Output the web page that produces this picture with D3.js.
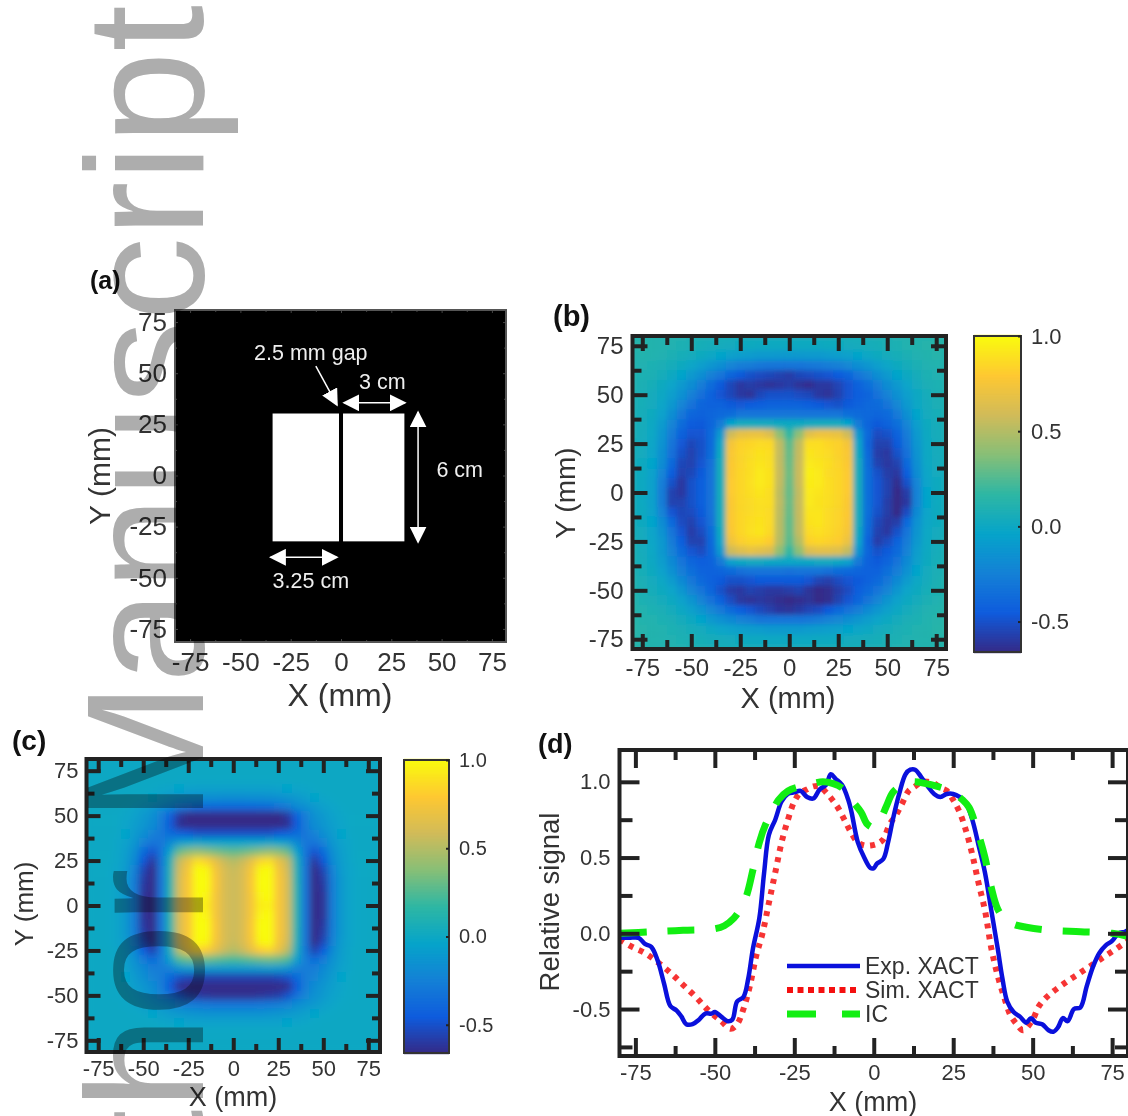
<!DOCTYPE html>
<html><head><meta charset="utf-8">
<style>html,body{margin:0;padding:0;background:#fff}svg{display:block}text{font-family:"Liberation Sans",Arial,sans-serif}</style>
<script src="https://cdn.jsdelivr.net/npm/d3@7"></script></head><body>
<div id="chart"></div>
<script>
const majorTicks=[-75,-50,-25,0,25,50,75];
const minorTicks=[-62.5,-37.5,-12.5,12.5,37.5,62.5];
const colorbarTicks=[1,0.5,0,-0.5];
const signalMajor=[1,0.5,0,-0.5];
const signalMinor=[0.75,0.25,-0.25,-0.75];
const gridAxis=[-80,-75,-70,-65,-60,-55,-50,-45,-40,-35,-30,-25,-20,-15,-10,-5,0,5,10,15,20,25,30,35,40,45,50,55,60,65,70,75,80];
const paruStops=["#352a87","#0f5cdd","#1481d6","#06a4ca","#2eb7a4","#87bf77","#d1bb59","#fec832","#f9fb0e"];
const apertures=[{x0:-34,x1:-1,y0:-32.2,y1:30.3},{x0:1,x1:31.5,y0:-32.2,y1:30.3}];
const arrows=[{x0:-12.5,y0:53.5,x1:-2,y1:34.5,both:false},{x0:1.5,y0:35.5,x1:31.8,y1:35.5,both:true},{x0:38.3,y0:31,x1:38.3,y1:-32.5,both:true},{x0:-35,y0:-40,x1:-2,y1:-40,both:true}];
const notes=[{t:"2.5 mm gap",x:-15,y:56.5},{t:"3 cm",x:20.5,y:42.5},{t:"6 cm",x:59,y:-0.5},{t:"3.25 cm",x:-15,y:-55}];
// measured map (b), rows y=80..-80, columns x=-80..80, in hundredths
const mapB=[
[12,12,12,11,11,10,9,8,7,6,6,5,5,5,4,4,4,4,4,5,5,5,6,6,7,8,9,10,11,12,12,13,13],
[13,14,12,11,10,9,8,6,5,4,3,2,2,1,1,1,1,1,1,1,2,2,3,4,5,6,8,9,11,12,13,14,13],
[12,12,11,10,8,6,4,2,-1,-4,-6,-8,-9,-10,-10,-11,-11,-11,-10,-10,-9,-8,-6,-4,-1,2,4,6,8,10,12,13,12],
[11,10,9,7,5,2,-2,-7,-12,-17,-22,-26,-28,-30,-31,-32,-32,-32,-30,-29,-27,-25,-21,-17,-12,-7,-2,2,5,8,10,11,11],
[10,9,8,5,1,-4,-10,-17,-25,-32,-40,-46,-50,-52,-54,-56,-58,-54,-52,-50,-48,-45,-40,-32,-25,-17,-10,-4,1,5,9,10,10],
[10,8,6,2,-3,-10,-18,-27,-36,-46,-54,-60,-58,-60,-62,-60,-58,-62,-64,-60,-60,-55,-48,-42,-35,-27,-18,-10,-3,3,7,9,10],
[9,7,4,0,-7,-15,-25,-34,-42,-48,-54,-60,-62,-54,-50,-50,-50,-52,-54,-60,-62,-56,-48,-44,-40,-33,-24,-15,-7,0,5,8,9],
[8,6,3,-2,-11,-22,-33,-40,-42,-42,-46,-47,-45,-44,-42,-42,-42,-42,-44,-46,-48,-50,-46,-42,-39,-37,-31,-21,-10,-1,4,7,9],
[8,5,2,-5,-17,-30,-40,-42,-40,-38,-36,-32,-32,-32,-32,-32,-31,-32,-32,-32,-32,-32,-35,-37,-39,-40,-38,-29,-16,-4,3,6,8],
[7,5,0,-9,-23,-36,-45,-46,-40,-28,-4,3,4,3,3,2,1,2,3,4,4,3,-4,-28,-40,-46,-42,-35,-22,-7,2,5,8],
[7,4,-1,-12,-28,-42,-48,-48,-38,-10,58,68,70,70,64,40,18,40,66,72,72,70,58,-10,-38,-52,-50,-42,-28,-10,1,5,7],
[6,3,-2,-14,-31,-47,-54,-50,-38,-2,75,83,85,87,86,54,28,54,88,88,85,83,75,-2,-40,-56,-56,-46,-30,-12,0,4,7],
[6,3,-3,-16,-34,-50,-56,-50,-36,2,78,84,87,90,88,55,30,56,91,89,87,83,78,2,-38,-58,-60,-50,-34,-14,0,4,6],
[5,2,-4,-18,-38,-54,-56,-48,-34,4,79,84,88,91,89,55,31,57,93,91,88,84,79,4,-36,-56,-60,-56,-38,-16,-1,3,6],
[5,2,-5,-22,-44,-56,-54,-46,-33,5,79,85,88,93,90,56,32,57,95,93,87,85,80,5,-35,-50,-58,-60,-44,-18,-2,3,5],
[5,1,-6,-26,-50,-60,-50,-44,-33,5,80,85,89,93,90,55,31,57,94,93,88,85,80,5,-35,-48,-56,-64,-50,-22,-3,2,5],
[5,1,-6,-28,-56,-60,-50,-44,-33,5,80,85,88,91,88,53,30,55,93,91,88,85,80,5,-35,-48,-56,-68,-58,-24,-4,2,5],
[5,1,-6,-28,-56,-56,-50,-44,-33,5,79,85,87,89,88,54,31,56,93,90,88,85,79,5,-35,-48,-58,-70,-60,-24,-4,2,5],
[5,2,-5,-24,-48,-54,-52,-46,-33,4,79,85,87,89,87,53,30,56,91,91,87,84,79,4,-35,-50,-58,-66,-52,-20,-3,2,5],
[5,2,-4,-18,-38,-52,-56,-48,-34,4,79,85,88,90,87,52,29,55,90,91,87,84,78,4,-36,-54,-60,-58,-38,-15,-2,2,6],
[6,3,-3,-14,-32,-48,-58,-52,-36,2,78,85,89,91,86,52,29,55,87,89,86,83,76,2,-38,-56,-60,-50,-32,-13,-1,3,6],
[7,3,-2,-11,-28,-44,-56,-56,-39,-3,73,82,85,85,81,50,27,50,83,85,83,81,71,-3,-42,-58,-52,-42,-28,-11,0,4,7],
[8,4,-1,-10,-24,-38,-48,-52,-40,-10,58,65,69,67,63,40,18,40,63,67,67,65,55,-12,-40,-50,-46,-38,-24,-8,1,5,8],
[9,5,0,-8,-20,-32,-40,-44,-42,-28,-5,1,3,3,1,0,-1,0,1,3,3,1,-5,-28,-42,-46,-41,-33,-20,-6,2,6,9],
[10,6,2,-5,-15,-26,-35,-41,-42,-40,-37,-34,-32,-32,-32,-32,-33,-32,-32,-32,-34,-36,-38,-40,-42,-42,-35,-26,-15,-4,3,7,10],
[11,7,3,-1,-9,-20,-30,-38,-42,-46,-50,-50,-48,-46,-46,-46,-46,-46,-48,-55,-57,-52,-48,-46,-42,-38,-30,-20,-9,-1,4,8,11],
[12,8,5,2,-3,-12,-23,-32,-40,-50,-58,-60,-56,-58,-60,-60,-58,-56,-62,-70,-64,-58,-52,-44,-38,-32,-23,-12,-3,2,6,9,12],
[13,9,7,4,1,-5,-13,-23,-33,-42,-52,-60,-62,-60,-62,-64,-66,-64,-62,-67,-64,-56,-48,-40,-31,-22,-13,-5,1,4,8,10,13],
[14,11,9,7,4,0,-6,-13,-21,-29,-37,-44,-48,-53,-57,-61,-62,-59,-55,-52,-46,-39,-33,-26,-19,-12,-6,0,4,7,10,12,14],
[15,12,11,9,7,4,1,-4,-10,-15,-20,-24,-27,-31,-32,-32,-32,-32,-30,-28,-24,-21,-17,-12,-8,-3,1,4,7,9,11,13,15],
[15,13,12,11,9,7,5,3,0,-3,-5,-7,-8,-9,-10,-10,-10,-10,-9,-8,-7,-6,-4,-2,0,3,5,7,9,11,12,14,15],
[14,13,12,11,10,9,8,6,5,4,3,2,1,1,0,0,0,0,0,1,1,2,3,4,5,6,8,9,10,11,12,13,14],
[13,12,12,11,11,10,9,8,7,6,6,5,5,4,4,4,4,4,4,5,5,5,6,6,7,8,9,10,11,11,12,12,13]];
// measured map (c), rows y=80..-80, columns x=-80..80, in hundredths
const mapC=[
[0,0,0,0,0,0,0,0,0,0,0,0,0,0,0,0,0,0,0,0,0,0,0,0,0,0,0,0,0,0,0,0,0],
[0,0,0,0,0,0,0,0,0,0,0,0,0,0,0,0,0,0,0,0,0,0,0,0,0,0,0,0,0,0,0,0,0],
[0,0,0,0,0,0,0,0,0,0,-1,-1,-1,-1,-1,-1,-1,-1,-1,-1,-1,-1,-1,0,0,0,0,0,0,0,0,0,0],
[0,0,0,0,0,0,0,-1,-2,-3,-4,-5,-6,-6,-6,-6,-6,-6,-6,-6,-6,-5,-4,-3,-2,-1,0,0,0,0,0,0,0],
[0,0,0,0,0,-1,-2,-4,-7,-10,-13,-15,-16,-17,-17,-18,-18,-18,-17,-17,-16,-15,-13,-10,-7,-4,-2,-1,0,0,0,0,0],
[0,0,0,0,-1,-3,-6,-10,-15,-20,-28,-32,-36,-37,-38,-38,-38,-38,-38,-37,-36,-32,-28,-20,-15,-10,-6,-3,-1,0,0,0,0],
[0,0,0,-1,-2,-5,-10,-15,-26,-42,-60,-68,-70,-72,-72,-72,-72,-72,-72,-72,-70,-68,-60,-42,-26,-15,-10,-5,-2,-1,0,0,0],
[0,0,0,-1,-3,-7,-12,-18,-28,-46,-64,-72,-74,-75,-75,-75,-75,-75,-75,-75,-74,-72,-64,-46,-28,-18,-12,-7,-3,-1,0,0,0],
[0,0,0,-1,-4,-9,-16,-24,-30,-36,-42,-46,-50,-50,-50,-50,-50,-50,-50,-50,-50,-46,-42,-36,-30,-24,-16,-9,-4,-1,0,0,0],
[0,0,0,-2,-5,-12,-24,-32,-30,-20,-8,-4,-2,-4,-4,-4,-4,-4,-4,-4,-2,-4,-8,-20,-30,-32,-24,-12,-5,-2,0,0,0],
[0,0,0,-2,-7,-16,-36,-48,-32,-4,30,38,42,38,34,30,28,30,34,38,42,38,30,-4,-32,-48,-36,-16,-7,-2,0,0,0],
[0,0,0,-2,-8,-20,-46,-60,-32,8,55,70,88,82,68,56,50,56,68,84,88,70,55,8,-32,-60,-46,-20,-8,-2,0,0,0],
[0,0,-1,-3,-9,-24,-54,-68,-32,10,60,76,104,98,76,62,56,62,76,98,104,76,60,10,-32,-68,-54,-24,-9,-3,-1,0,0],
[0,0,-1,-3,-10,-26,-58,-72,-32,12,62,78,110,106,78,62,57,62,78,106,110,78,62,12,-32,-72,-58,-26,-10,-3,-1,0,0],
[0,0,-1,-3,-10,-27,-60,-74,-32,13,62,78,106,102,78,62,57,62,78,102,106,78,62,13,-32,-74,-60,-27,-10,-3,-1,0,0],
[0,0,-1,-3,-10,-27,-62,-75,-32,13,62,78,100,97,76,62,57,62,76,97,100,78,62,13,-32,-75,-62,-27,-10,-3,-1,0,0],
[0,0,-1,-3,-10,-27,-62,-75,-32,13,62,78,96,94,76,62,57,62,76,94,96,78,62,13,-32,-75,-62,-27,-10,-3,-1,0,0],
[0,0,-1,-3,-10,-27,-62,-75,-32,13,62,78,100,97,76,62,57,62,76,97,100,78,62,13,-32,-75,-62,-27,-10,-3,-1,0,0],
[0,0,-1,-3,-10,-27,-60,-74,-32,13,62,78,106,102,78,62,57,62,78,102,106,78,62,13,-32,-74,-60,-27,-10,-3,-1,0,0],
[0,0,-1,-3,-10,-26,-58,-72,-32,12,62,78,110,106,78,62,57,62,78,106,110,78,62,12,-32,-72,-58,-26,-10,-3,-1,0,0],
[0,0,-1,-3,-9,-24,-54,-68,-32,10,60,76,104,98,76,62,56,62,76,98,104,76,60,10,-32,-68,-54,-24,-9,-3,-1,0,0],
[0,0,0,-2,-8,-20,-44,-56,-30,6,52,70,84,80,68,56,50,56,68,80,84,70,52,6,-30,-56,-44,-20,-8,-2,0,0,0],
[0,0,0,-2,-7,-15,-28,-36,-26,-6,24,30,32,30,27,24,22,24,27,30,32,30,24,-6,-26,-36,-28,-15,-7,-2,0,0,0],
[0,0,0,-2,-5,-12,-20,-26,-28,-24,-14,-10,-9,-10,-11,-11,-11,-11,-11,-10,-9,-10,-14,-24,-28,-26,-20,-12,-5,-2,0,0,0],
[0,0,0,-1,-4,-9,-16,-22,-28,-38,-50,-54,-56,-56,-56,-56,-56,-56,-56,-56,-56,-54,-50,-38,-28,-22,-16,-9,-4,-1,0,0,0],
[0,0,0,-1,-3,-7,-12,-18,-27,-46,-64,-72,-74,-75,-75,-75,-75,-75,-75,-75,-74,-72,-64,-46,-27,-18,-12,-7,-3,-1,0,0,0],
[0,0,0,-1,-2,-5,-10,-15,-22,-34,-50,-58,-60,-62,-63,-63,-63,-63,-63,-62,-60,-58,-50,-34,-22,-15,-10,-5,-2,-1,0,0,0],
[0,0,0,0,-1,-3,-6,-10,-14,-18,-24,-27,-29,-30,-31,-31,-31,-31,-31,-30,-29,-27,-24,-18,-14,-10,-6,-3,-1,0,0,0,0],
[0,0,0,0,0,-1,-2,-4,-6,-9,-11,-13,-14,-15,-15,-15,-15,-15,-15,-15,-14,-13,-11,-9,-6,-4,-2,-1,0,0,0,0,0],
[0,0,0,0,0,0,0,-1,-2,-3,-4,-5,-5,-5,-5,-5,-5,-5,-5,-5,-5,-5,-4,-3,-2,-1,0,0,0,0,0,0,0],
[0,0,0,0,0,0,0,0,0,0,-1,-1,-1,-1,-1,-1,-1,-1,-1,-1,-1,-1,-1,0,0,0,0,0,0,0,0,0,0],
[0,0,0,0,0,0,0,0,0,0,0,0,0,0,0,0,0,0,0,0,0,0,0,0,0,0,0,0,0,0,0,0,0],
[0,0,0,0,0,0,0,0,0,0,0,0,0,0,0,0,0,0,0,0,0,0,0,0,0,0,0,0,0,0,0,0,0]];
const expX=[-80,-77,-74,-72,-70,-68,-66,-64,-62,-60.5,-59,-57,-55,-53,-51,-50,-48,-46,-44.5,-43,-41,-39.5,-38,-36,-34.5,-33,-31,-29,-27,-25,-23,-21,-19,-17,-15,-13.5,-12,-10,-8,-7,-5,-3,-1,0,1,3,4.5,6,8,10,11.5,13,15,17,19,21,23,25,27,29,31,33,35,37,39,40.5,42,44,46,48,49.5,51,53,55,56.5,58,59.5,61,63,65,67,69,71,73,75,77,79,80];
const expY=[-.03,-.03,-.03,-.07,-.09,-.18,-.33,-.48,-.51,-.55,-.6,-.6,-.57,-.53,-.53,-.52,-.55,-.58,-.57,-.45,-.42,-.3,-.1,.1,.4,.65,.75,.87,.92,.93,.94,.9,.89,.95,.98,1.05,1.02,.98,.88,.8,.6,.5,.43,.43,.46,.49,.6,.75,.92,1.05,1.08,1.08,1.03,.97,.92,.9,.92,.92,.9,.86,.75,.58,.4,.15,-.1,-.3,-.45,-.52,-.55,-.59,-.56,-.59,-.6,-.64,-.65,-.62,-.56,-.58,-.5,-.49,-.35,-.22,-.13,-.08,-.05,0,.01,.02];
const simX=[-80,-76,-72,-68,-64,-60,-56,-52,-48,-45,-43,-41,-39,-37,-35,-33,-31,-29,-27,-25,-23,-21,-19,-17,-15,-13,-11,-9,-7,-5,-3,-1,1,3,5,7,9,11,13,15,17,19,21,23,25,27,29,31,33,35,37,39,41,43,45,47,50,52,55,60,65,70,75,80];
const simY=[-.04,-.09,-.13,-.19,-.26,-.34,-.42,-.51,-.58,-.63,-.6,-.5,-.35,-.15,0,.2,.4,.6,.75,.87,.93,.95,.97,.97,.93,.88,.82,.74,.66,.6,.58,.58,.59,.62,.72,.78,.86,.94,.97,1,1,.99,.96,.94,.88,.8,.68,.52,.33,.15,-.1,-.28,-.42,-.54,-.6,-.64,-.57,-.48,-.41,-.33,-.26,-.19,-.12,-.05];
const icX=[-80,-70,-60,-50,-47,-44,-42,-40,-38,-36,-34,-32,-30,-27,-23,-19,-16,-13,-10,-7,-4,-2,0,2,4,6,9,12,16,20,24,28,30,33,35,37,39,41,44,48,55,65,75,80];
const icY=[0,.01,.02,.03,.05,.1,.16,.25,.42,.6,.72,.8,.88,.94,.97,.99,1,.99,.96,.88,.8,.72,.7,.75,.84,.93,.98,1,.99,.97,.94,.88,.83,.65,.5,.3,.16,.1,.06,.04,.02,.01,0,-.02];
const legendNames=["Exp. XACT","Sim. XACT","IC"];

const svg=d3.select("#chart").append("svg").attr("width",1128).attr("height",1116);
svg.append("rect").attr("width",1128).attr("height",1116).attr("fill","#fff");
const defs=svg.append("defs");
const blur=(id,sd)=>defs.append("filter").attr("id",id).attr("filterUnits","userSpaceOnUse").attr("x",0).attr("y",0).attr("width",1128).attr("height",1116)
  .append("feGaussianBlur").attr("stdDeviation",sd);
blur("smoothB",2.8);blur("smoothC",3.6);
const mk=(id,o)=>defs.append("marker").attr("id",id).attr("viewBox","0 0 10 10").attr("refX",9).attr("refY",5).attr("markerWidth",17).attr("markerHeight",17).attr("markerUnits","userSpaceOnUse").attr("orient",o).append("path").attr("d","M0,0L10,5L0,10Z").attr("fill","#fff");
mk("arrow","auto");mk("arrowS","auto-start-reverse");

const paru=d3.scaleLinear().domain(paruStops.map((_,i)=>i/(paruStops.length-1))).range(paruStops);
const norm=d3.scaleLinear().domain([-0.66,1]).range([0,1]).clamp(true);
const colour=v=>paru(norm(v));
const ink="#222";

function frame(g,x,y,o){
  const [x0,x1]=x.range(),[y1,y0]=y.range();
  const add=(gen,tx,ty)=>{const a=g.append("g").attr("transform",`translate(${tx},${ty})`).call(gen);
    a.select(".domain").remove();a.selectAll("line").attr("stroke",o.tick||ink).attr("stroke-width",o.sw);
    a.selectAll("text").attr("font-size",o.fs).attr("fill","#333");return a;};
  const fmt=o.fmt||(d=>String(d));
  add(d3.axisBottom(x).tickValues(o.xMajor).tickFormat(d=>String(d)).tickSizeInner(-o.major).tickSizeOuter(0).tickPadding(o.padX),0,y1);
  add(d3.axisBottom(x).tickValues(o.xMinor).tickFormat("").tickSizeInner(-o.minor).tickSizeOuter(0),0,y1);
  add(d3.axisTop(x).tickValues(o.xMajor).tickFormat("").tickSizeInner(-o.major).tickSizeOuter(0),0,y0);
  add(d3.axisTop(x).tickValues(o.xMinor).tickFormat("").tickSizeInner(-o.minor).tickSizeOuter(0),0,y0);
  add(d3.axisLeft(y).tickValues(o.yMajor).tickFormat(fmt).tickSizeInner(-(o.majorY||o.major)).tickSizeOuter(0).tickPadding(o.padY),x0,0);
  add(d3.axisLeft(y).tickValues(o.yMinor).tickFormat("").tickSizeInner(-(o.minorY||o.minor)).tickSizeOuter(0),x0,0);
  add(d3.axisRight(y).tickValues(o.yMajor).tickFormat("").tickSizeInner(-(o.majorY||o.major)).tickSizeOuter(0),x1,0);
  add(d3.axisRight(y).tickValues(o.yMinor).tickFormat("").tickSizeInner(-(o.minorY||o.minor)).tickSizeOuter(0),x1,0);
  g.append("rect").attr("x",x0).attr("y",y0).attr("width",x1-x0).attr("height",y1-y0).attr("fill","none").attr("stroke",o.border||ink).attr("stroke-width",o.bw||o.sw);
}
function titles(x,yT,xs,xl,yl,fs,xt,yt){
  svg.append("text").attr("x",xl).attr("y",yl).attr("text-anchor","middle").attr("font-size",fs).attr("fill","#333").text(xt||"X (mm)");
  svg.append("text").attr("transform",`translate(${x},${yT}) rotate(-90)`).attr("text-anchor","middle").attr("font-size",xs).attr("fill","#333").text(yt||"Y (mm)");
}
function panelTag(t,x,y,fs){svg.append("text").attr("x",x).attr("y",y).attr("font-size",fs).attr("font-weight","bold").attr("fill","#111").text(t);}

function heat(map,x,y,bg,id,flt){
  const [x0,x1]=x.range(),[y1,y0]=y.range();
  defs.append("clipPath").attr("id",id).append("rect").attr("x",x0).attr("y",y0).attr("width",x1-x0).attr("height",y1-y0);
  const outer=svg.append("g").attr("clip-path",`url(#${id})`);
  outer.append("rect").attr("x",x0).attr("y",y0).attr("width",x1-x0).attr("height",y1-y0).attr("fill",colour(bg));
  const g=outer.append("g").attr("filter",`url(#${flt})`);
  const cells=map.flatMap((row,r)=>row.map((v,c)=>({x:gridAxis[c],y:gridAxis[gridAxis.length-1-r],v:v/100})));
  g.selectAll("rect.c").data(cells).join("rect").attr("class","c")
    .attr("x",d=>x(d.x-2.5)).attr("width",d=>x(d.x+2.5)-x(d.x-2.5)+.5)
    .attr("y",d=>y(d.y+2.5)).attr("height",d=>y(d.y-2.5)-y(d.y+2.5)+.5)
    .attr("fill",d=>colour(d.v));
}
function colourbar(x0,x1,top,bottom,fs,tx){
  const s=d3.scaleLinear().domain([-0.66,1]).range([bottom,top]);
  const vals=d3.range(0,200).map(i=>-0.66+1.66*i/199);
  svg.selectAll(null).data(vals).join("rect").attr("x",x0).attr("width",x1-x0).attr("y",d=>s(d)-1.2).attr("height",2.4).attr("fill",d=>colour(d));
  svg.append("rect").attr("x",x0).attr("y",top).attr("width",x1-x0).attr("height",bottom-top).attr("fill","none").attr("stroke","#333").attr("stroke-width",2);
  const a=svg.append("g").attr("transform",`translate(${x1},0)`).call(d3.axisRight(s).tickValues(colorbarTicks).tickFormat(d=>d.toFixed(1)).tickSizeInner(-3).tickSizeOuter(0).tickPadding(tx));
  a.select(".domain").remove();a.selectAll("line").attr("stroke","#222").attr("stroke-width",2);
  a.selectAll("text").attr("font-size",fs).attr("fill","#333");
}

// (a)
{
  const x=d3.scaleLinear().domain([-82.5,82]).range([175,506]);
  const y=d3.scaleLinear().domain([-81.4,80.9]).range([642,310]);
  svg.append("rect").attr("x",175).attr("y",310).attr("width",331).attr("height",332).attr("fill","#000");
  svg.selectAll(null).data(apertures).join("rect").attr("x",d=>x(d.x0)).attr("width",d=>x(d.x1)-x(d.x0)).attr("y",d=>y(d.y1)).attr("height",d=>y(d.y0)-y(d.y1)).attr("fill","#fff");
  svg.selectAll(null).data(arrows).join("line").attr("x1",d=>x(d.x0)).attr("y1",d=>y(d.y0)).attr("x2",d=>x(d.x1)).attr("y2",d=>y(d.y1)).attr("stroke","#fff").attr("stroke-width",1.5)
    .attr("marker-end",d=>d.both?"url(#arrowS)":"url(#arrow)").attr("marker-start",d=>d.both?"url(#arrowS)":null);
  svg.selectAll(null).data(notes).join("text").attr("x",d=>x(d.x)).attr("y",d=>y(d.y)).attr("text-anchor","middle").attr("font-size",21.5).attr("fill","#eee").text(d=>d.t);
  frame(svg.append("g"),x,y,{xMajor:majorTicks,xMinor:minorTicks,yMajor:majorTicks,yMinor:minorTicks,major:3,minor:2,sw:1,tick:"#444",border:"#555",bw:2,fs:26,padX:11,padY:8});
  titles(110,476,30,340,706,32);
  panelTag("(a)",90,289,25);
}
// (b)
{
  const x=d3.scaleLinear().domain([-80,80]).range([632.5,946]);
  const y=d3.scaleLinear().domain([-80,80]).range([649,336]);
  heat(mapB,x,y,0.09,"clipB","smoothB");
  frame(svg.append("g"),x,y,{xMajor:majorTicks,xMinor:minorTicks,yMajor:majorTicks,yMinor:minorTicks,major:15,minor:9,sw:4,fs:24,padX:10,padY:9});
  titles(575,493,28,788,708,29);
  colourbar(974,1021,336,652,22,10);
  panelTag("(b)",553,326,29);
}
// (c)
{
  const x=d3.scaleLinear().domain([-81.5,81.5]).range([86.5,380]);
  const y=d3.scaleLinear().domain([-81.5,81.5]).range([1052,759]);
  heat(mapC,x,y,0,"clipC","smoothC");
  frame(svg.append("g"),x,y,{xMajor:majorTicks,xMinor:minorTicks,yMajor:majorTicks,yMinor:minorTicks,major:14,minor:8,sw:4,fs:22,padX:8,padY:8});
  titles(33,904,26,233,1106,27);
  colourbar(404,449,760,1053,20,10);
  panelTag("(c)",12,750,28);
}
// (d)
{
  const x=d3.scaleLinear().domain([-80,80]).range([619.5,1128]);
  const y=d3.scaleLinear().domain([-0.81,1.21]).range([1056,750]);
  const g=svg.append("g");
  defs.append("clipPath").attr("id","clipD").append("rect").attr("x",619.5).attr("y",750).attr("width",510).attr("height",306);
  const plot=g.append("g").attr("clip-path","url(#clipD)");
  const line=d3.line().x(d=>x(d[0])).y(d=>y(d[1])).curve(d3.curveCatmullRom.alpha(.5));
  plot.append("path").datum(d3.zip(simX,simY)).attr("d",line).attr("fill","none").attr("stroke","#f41010").attr("stroke-width",6).attr("stroke-dasharray","5 6").attr("opacity",.85);
  plot.append("path").datum(d3.zip(expX,expY)).attr("d",line).attr("fill","none").attr("stroke","#0a10dc").attr("stroke-width",4.5);
  plot.append("path").datum(d3.zip(icX,icY)).attr("d",line).attr("fill","none").attr("stroke","#12ee12").attr("stroke-width",7).attr("stroke-dasharray","27 21");
  frame(g,x,y,{xMajor:majorTicks,xMinor:minorTicks,yMajor:signalMajor,yMinor:signalMinor,major:18,minor:10,majorY:20,minorY:13,sw:4,fs:22,padX:8,padY:9,fmt:d=>d.toFixed(1)});
  titles(559,902,27.5,873,1111,27,"X (mm)","Relative signal");
  const ly=[966,990,1014];
  const styles=[{c:"#0a10dc",w:4.5,da:null},{c:"#f41010",w:6,da:"6 4.5"},{c:"#12ee12",w:7,da:"29 26"}];
  svg.selectAll(null).data(legendNames).join("line").attr("x1",787).attr("x2",860).attr("y1",(d,i)=>ly[i]).attr("y2",(d,i)=>ly[i])
    .attr("stroke",(d,i)=>styles[i].c).attr("stroke-width",(d,i)=>styles[i].w).attr("stroke-dasharray",(d,i)=>styles[i].da);
  svg.selectAll(null).data(legendNames).join("text").attr("x",865).attr("y",(d,i)=>ly[i]+8).attr("font-size",23).attr("fill","#333").text(d=>d);
  panelTag("(d)",538,753,27);
}
// stamp over the page
svg.append("text").attr("transform","translate(203,5) rotate(-90)").attr("text-anchor","end").attr("font-size",167).attr("fill","#adadad").style("mix-blend-mode","multiply").text("Author Manuscript");
</script></body></html>
